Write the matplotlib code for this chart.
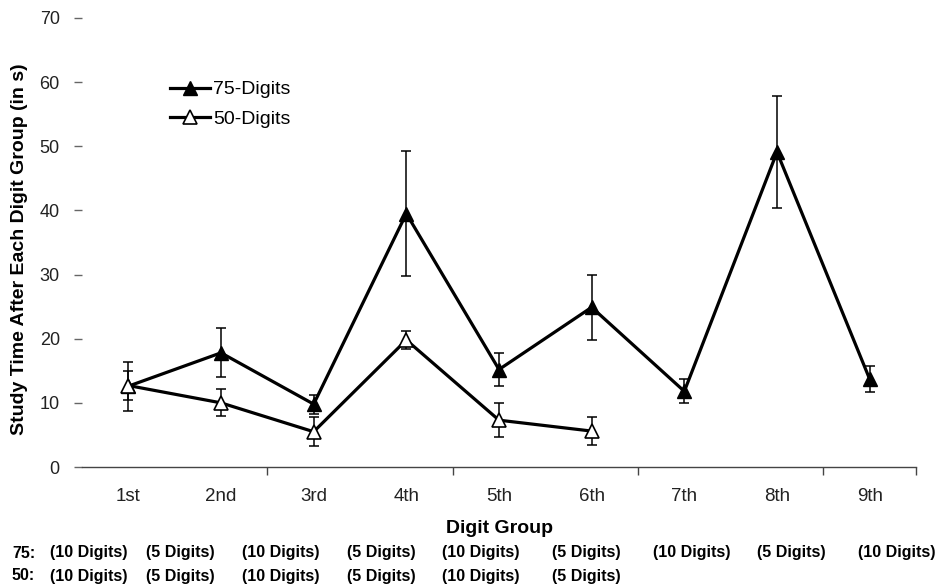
import matplotlib.pyplot as plt

plt.rcParams['font.family'] = ['Liberation Sans', 'DejaVu Sans']

groups = ["1st", "2nd", "3rd", "4th", "5th", "6th", "7th", "8th", "9th"]
d75 = [12.6, 17.8, 9.8, 39.5, 15.2, 24.9, 11.8, 49.1, 13.7]
e75 = [3.8, 3.8, 1.5, 9.8, 2.6, 5.1, 1.9, 8.7, 2.0]
d50 = [12.7, 10.0, 5.5, 19.8, 7.3, 5.6]
e50 = [2.2, 2.1, 2.3, 1.4, 2.7, 2.2]
row75 = ["(10 Digits)", "(5 Digits)", "(10 Digits)", "(5 Digits)", "(10 Digits)",
         "(5 Digits)", "(10 Digits)", "(5 Digits)", "(10 Digits)"]
row50 = ["(10 Digits)", "(5 Digits)", "(10 Digits)", "(5 Digits)", "(10 Digits)",
         "(5 Digits)"]
row_left = [50, 146, 242, 347, 442, 552, 653, 757, 858]  # pixel left edges

fig = plt.figure(figsize=(9.4, 5.86), dpi=100)
ax = fig.add_axes([82 / 940, 1 - 467 / 586, (916 - 82) / 940, (467 - 18) / 586])

x75 = list(range(1, len(d75) + 1))
x50 = list(range(1, len(d50) + 1))

ax.errorbar(x75, d75, yerr=e75, fmt='none', ecolor='black', elinewidth=1.1,
            capsize=3.5, capthick=1.1, zorder=2)
ax.errorbar(x50, d50, yerr=e50, fmt='none', ecolor='black', elinewidth=1.1,
            capsize=3.5, capthick=1.1, zorder=2)
ax.plot(x75, d75, color='black', lw=2.3, marker='^', ms=9.5,
        mfc='black', mec='black', label='75-Digits', zorder=3)
ax.plot(x50, d50, color='black', lw=2.3, marker='^', ms=9.5,
        mfc='white', mec='black', mew=1.2, label='50-Digits', zorder=4)

ax.set_xlim(0.5, 9.5)
ax.set_ylim(0, 70)
ax.set_yticks(range(0, 71, 10))
ax.set_xticks(x75)
ax.set_xticklabels(groups)
ax.set_xticks([2.5, 4.5, 6.5, 8.5, 9.5], minor=True)
ax.tick_params(axis='x', which='major', length=0, pad=15, labelsize=13.5,
               labelcolor='#222222')
ax.tick_params(axis='x', which='minor', length=6, direction='out',
               color='#444444', width=1)
ax.tick_params(axis='y', length=6, direction='out', color='#666666', width=1,
               pad=10, labelsize=13, labelcolor='#222222')

for s in ['top', 'right', 'left']:
    ax.spines[s].set_visible(False)
ax.spines['bottom'].set_color('#444444')
ax.spines['bottom'].set_linewidth(1)

fig.text(20 / 940, 1 - 249 / 586, "Study Time After Each Digit Group (in s)",
         fontsize=14, fontweight='bold', rotation=90, ha='center', va='center')
ax.set_xlabel("Digit Group", fontsize=14, fontweight='bold', labelpad=11)

ax.legend(loc='upper left', bbox_to_anchor=(0.1055, 0.86), frameon=False,
          fontsize=14, handlelength=2.05, handletextpad=0.15, labelspacing=0.6,
          borderaxespad=0, borderpad=0)

fig.text(12 / 940, 1 - 553 / 586, "75:", fontsize=11.5, fontweight='bold', va='center')
fig.text(12 / 940, 1 - 576 / 586, "50:", fontsize=11.5, fontweight='bold', va='center')
for i, t in enumerate(row75):
    fig.text(row_left[i] / 940, 1 - 553 / 586, t, fontsize=11.5,
             fontweight='bold', va='center')
for i, t in enumerate(row50):
    fig.text(row_left[i] / 940, 1 - 576 / 586, t, fontsize=11.5,
             fontweight='bold', va='center')

fig.savefig("out.png", dpi=100)
